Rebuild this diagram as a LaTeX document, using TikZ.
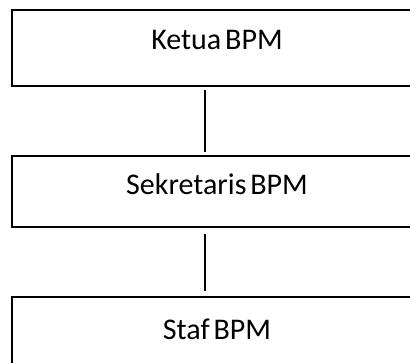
\documentclass[tikz,border=0pt]{standalone}
\usepackage{fontspec}
\setmainfont{Carlito}
\newcommand\tightsp{\spaceskip=0.13em\relax}
\begin{document}
\begin{tikzpicture}[x=1pt,y=1pt,
  orgbox/.style={draw=black,line width=1.6pt,fill=white,minimum width=410pt,inner sep=0pt,text depth=0pt,
    font=\fontsize{30}{34}\selectfont},
  link/.style={draw=black,line width=1.4pt}]
\useasboundingbox (0,0) rectangle (410,363);
\clip (0,0) rectangle (410,363);
\node[orgbox,minimum height=76pt,text height=2.6pt] (a) at (217,315) {\tightsp Ketua BPM};
\node[orgbox,minimum height=71pt,text height=6pt] (b) at (217,171.7) {\tightsp Sekretaris BPM};
\node[orgbox,minimum height=76pt,text height=8.6pt] (c) at (217,28) {\tightsp Staf BPM};
\coordinate (a1) at ([xshift=-12pt,yshift=-3pt]a.south);
\coordinate (b1) at ([xshift=-12pt,yshift=3pt]b.north);
\coordinate (b2) at ([xshift=-12pt,yshift=-6pt]b.south);
\coordinate (c1) at ([xshift=-12pt,yshift=5pt]c.north);
\draw[link] (a1) -- (b1);
\draw[link] (b2) -- (c1);
\end{tikzpicture}
\end{document}
